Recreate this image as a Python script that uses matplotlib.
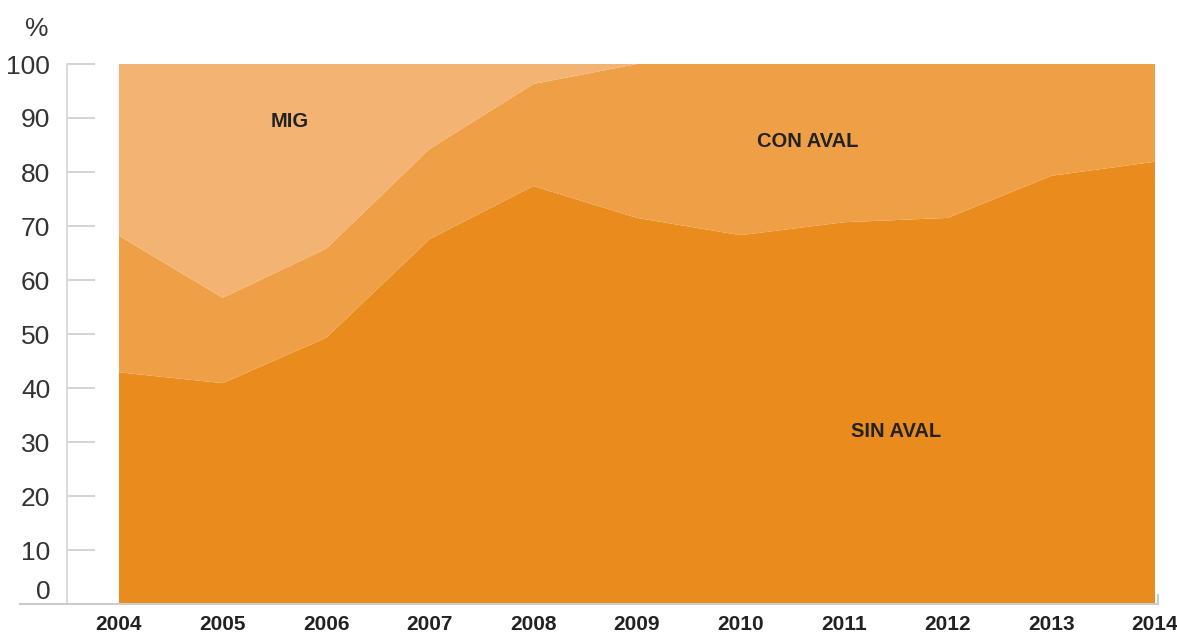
import numpy as np
import matplotlib
matplotlib.use('Agg')
import matplotlib.pyplot as plt
from matplotlib.lines import Line2D

years = [2004, 2005, 2006, 2007, 2008, 2009, 2010, 2011, 2012, 2013, 2014]
sin_aval = [42.9, 40.9, 49.3, 67.6, 77.4, 71.5, 68.3, 70.7, 71.5, 79.3, 81.9]
con_aval = [25.3, 15.8, 16.5, 16.7, 18.9, 28.5, 31.7, 29.3, 28.5, 20.7, 18.1]
mig = [31.8, 43.3, 34.2, 15.7, 3.7, 0, 0, 0, 0, 0, 0]
yticks = list(range(0, 101, 10))

colors = ['#E98B1D', '#EF9F46', '#F3B473']
W, H = 1177, 637

plt.rcParams['font.family'] = ['Liberation Sans', 'DejaVu Sans']
fig = plt.figure(figsize=(W/100, H/100), dpi=100)
ax = fig.add_axes([67/W, 1-604/H, (1158-67)/W, 540/H])

ax.stackplot(years, sin_aval, con_aval, mig, colors=colors, linewidth=0)

px_year = (1155-119)/10
ax.set_xlim(2004 - (119-67)/px_year, 2014 + (1158-1155)/px_year)
ax.set_ylim(0, 100)

for s in ['top', 'right', 'bottom']:
    ax.spines[s].set_visible(False)
ax.spines['left'].set_color('#d4d4d4')
ax.spines['left'].set_linewidth(1.2)

ax.set_yticks(yticks)
ax.set_yticklabels([str(v) for v in yticks])
ax.tick_params(axis='y', direction='in', length=20, width=1.2, color='#cccccc',
               pad=12, labelsize=19, labelcolor='#333333')
ax.get_yticklabels()[0].set_va('bottom')

ax.set_xticks(years)
ax.set_xticklabels([str(y) for y in years], fontweight='bold')
ax.tick_params(axis='x', length=0, pad=8, labelsize=15, labelcolor='#222222')

# bottom baseline runs past the left axis
fig.add_artist(Line2D([20/W, 1157/W], [1-604/H, 1-604/H], color='#cccccc', lw=1.5))
ax.plot([1, 1], [0, 9/540], transform=ax.transAxes, color='#cccccc', lw=1.5, clip_on=False)

fig.text(37/W, 1-29/H, '%', ha='center', va='center', fontsize=19, color='#333333')

lab = dict(ha='center', va='center', fontsize=14.5, fontweight='bold', color='#222222')
ax.text(2005.65, 89.4, 'MIG', **lab)
ax.text(2010.65, 85.6, 'CON AVAL', **lab)
ax.text(2011.5, 32.0, 'SIN AVAL', **lab)

fig.savefig('out.png', dpi=100)
